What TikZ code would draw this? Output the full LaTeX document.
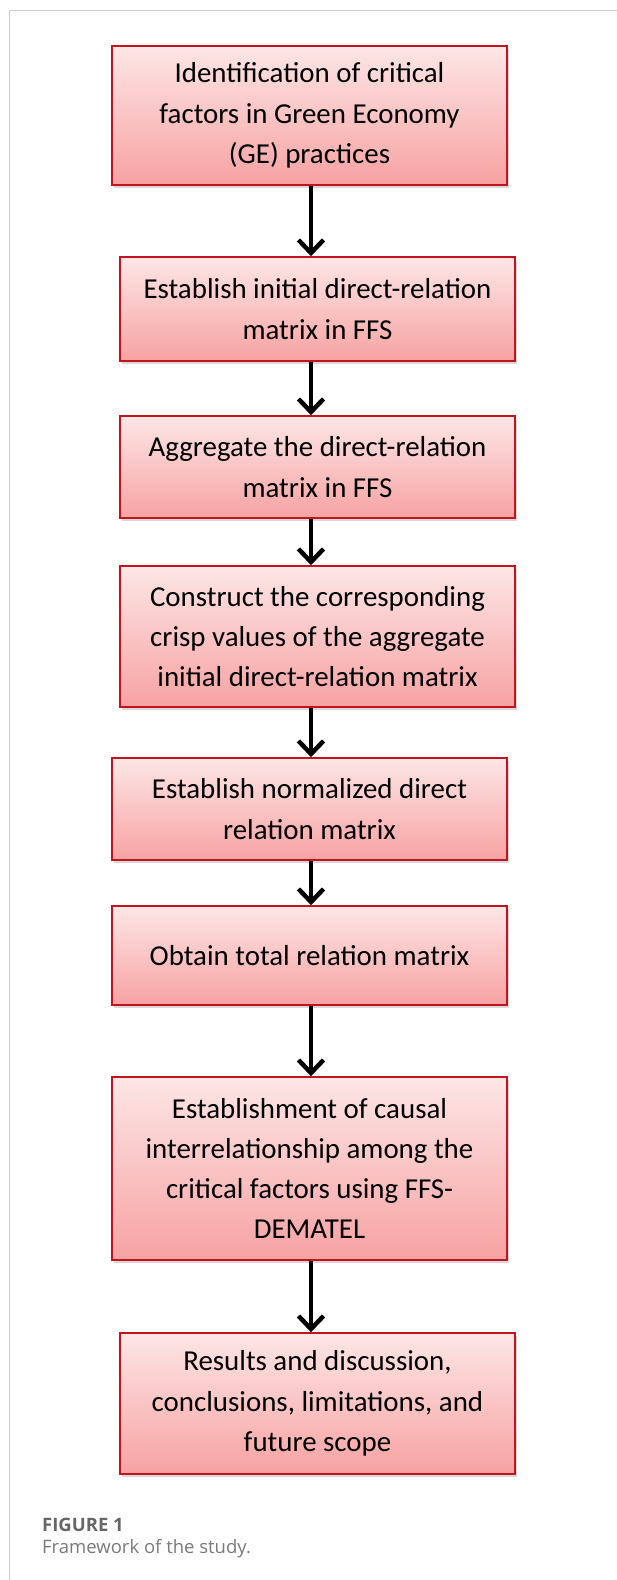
\documentclass[tikz,border=0pt]{standalone}
\usepackage{fontspec}
\setmainfont{Carlito}
\newfontfamily\capfont{Open Sans}
\usetikzlibrary{arrows.meta,shadows,calc}
\definecolor{boxtop}{HTML}{FDE6E6}
\definecolor{boxbot}{HTML}{F7A2A2}
\definecolor{boxred}{HTML}{C0141E}
\definecolor{framegray}{HTML}{CCCCCC}
\definecolor{capdark}{HTML}{666666}
\definecolor{caplight}{HTML}{7A7A7A}
\tikzset{
  stepbox/.style={draw=boxred, line width=1.6pt, top color=boxtop, bottom color=boxbot,
    minimum width=395pt, inner sep=0pt, align=center,
    font=\fontsize{28.9}{40.3}\selectfont,
    drop shadow={shadow xshift=1.5pt, shadow yshift=-3pt, opacity=0.25, fill=black!60}},
  flowarrow/.style={line width=4.5pt, black, -{Straight Barb[length=13pt,width=25pt]}},
}
\begin{document}
\begin{tikzpicture}[x=1pt,y=1pt]
\useasboundingbox (0,0) rectangle (617,-1580);
\fill[white] (0,0) rectangle (617,-1580);
\draw[framegray, line width=1pt] (9,-1580) -- (9,-10) -- (617,-10);
\coordinate (ax) at (311,0);
\node[stepbox, minimum height=139pt] (b1) at (309.5,-115.5) {Identification of critical\\factors in Green Economy\\(GE) practices};
\node[stepbox, minimum height=104pt] (b2) at (317.5,-309) {Establish initial direct-relation\\matrix in FFS};
\node[stepbox, minimum height=102pt] (b3) at (317.5,-467) {Aggregate the direct-relation\\matrix in FFS};
\node[stepbox, minimum height=141pt] (b4) at (317.5,-636.5) {Construct the corresponding\\crisp values of the aggregate\\initial direct-relation matrix};
\node[stepbox, minimum height=102pt] (b5) at (309.5,-809) {Establish normalized direct\\relation matrix};
\node[stepbox, minimum height=99pt] (b6) at (309.5,-955.5) {Obtain total relation matrix};
\node[stepbox, minimum height=183pt] (b7) at (309.5,-1168.5) {Establishment of causal\\interrelationship among the\\critical factors using FFS-\\DEMATEL};
\node[stepbox, minimum height=141pt] (b8) at (317.5,-1403.5) {Results and discussion,\\conclusions, limitations, and\\future scope};
\foreach \a/\b in {b1/b2,b2/b3,b3/b4,b4/b5,b5/b6,b6/b7,b7/b8}
  \draw[flowarrow] (\a.south -| ax) -- (\b.north -| ax);
\node[anchor=base west, inner sep=0pt, font=\capfont\bfseries\fontsize{18.5}{22}\selectfont, text=capdark] (cap1) at (42,-1531) {FIGURE 1};
\node[anchor=base west, inner sep=0pt, font=\capfont\fontsize{18.5}{22}\selectfont, text=caplight] (cap2) at (42,-1553) {Framework of the study.};
\end{tikzpicture}
\end{document}
